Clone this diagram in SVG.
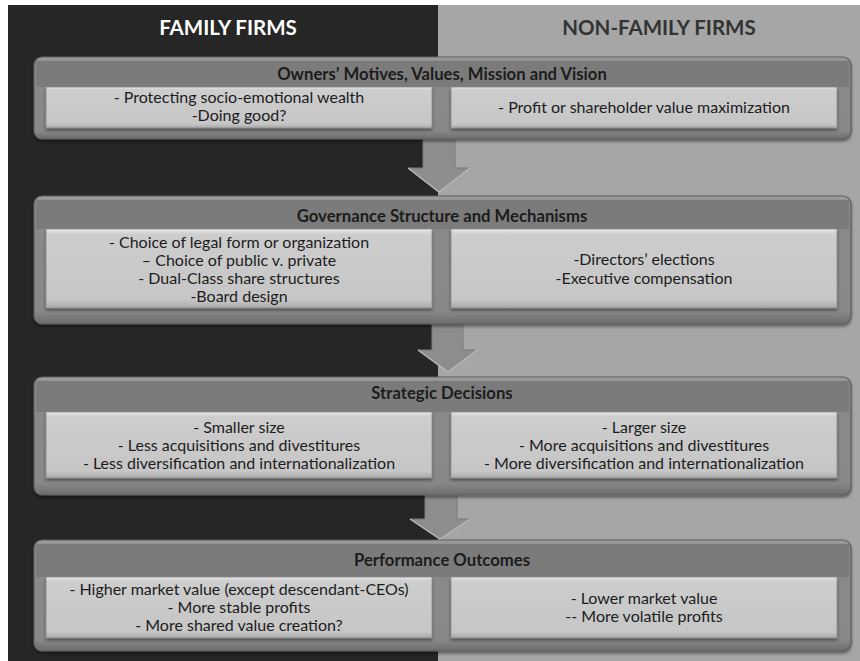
<svg xmlns="http://www.w3.org/2000/svg" width="860" height="661" viewBox="0 0 860 661">
<defs>
<style>
.t{font-family:Lato,"Liberation Sans",sans-serif;font-size:16px;fill:#1c1c1c;text-anchor:middle}
.h{font-family:Lato,"Liberation Sans",sans-serif;font-size:16.7px;font-weight:bold;fill:#1c1c1c;text-anchor:middle}
.col{font-family:Lato,"Liberation Sans",sans-serif;font-size:20.5px;font-weight:bold;text-anchor:middle}
.panel{fill:url(#pg);stroke:#5e5e5e;stroke-width:1.2}
.band{fill:#7b7b7b}
.box{fill:url(#bg);stroke:#8a8a8a;stroke-width:0.8}
.arrow{fill:#8d8d8d;stroke:#7a7a7a;stroke-width:1}
</style>
<linearGradient id="pg" x1="0" y1="0" x2="0" y2="1">
<stop offset="0" stop-color="#a0a0a0"/>
<stop offset="0.06" stop-color="#8a8a8a"/>
<stop offset="0.9" stop-color="#888888"/>
<stop offset="1" stop-color="#6c6c6c"/>
</linearGradient>
<linearGradient id="bg" x1="0" y1="0" x2="0" y2="1">
<stop offset="0" stop-color="#e6e6e6"/>
<stop offset="0.07" stop-color="#cdcdcd"/>
<stop offset="0.9" stop-color="#c6c6c6"/>
<stop offset="1" stop-color="#a8a8a8"/>
</linearGradient>
<filter id="sh" x="-5%" y="-10%" width="110%" height="125%">
<feDropShadow dx="0" dy="2" stdDeviation="1.5" flood-color="#000" flood-opacity="0.45"/>
</filter>
</defs>
<rect x="0" y="0" width="860" height="661" fill="#ffffff"/>
<rect x="8" y="5" width="430" height="656" fill="#262626"/>
<rect x="438" y="5" width="422" height="656" fill="#a6a6a6"/>
<text class="col" x="228" y="35" fill="#ffffff">FAMILY FIRMS</text>
<text class="col" x="659" y="35" fill="#333333">NON-FAMILY FIRMS</text>
<g id="connectors">
<path class="arrow" d="M423,138 H455 V168 H470 L439,192 L408,168 H423 Z"/>
<path d="M408,168 L439,192 L470,168" fill="none" stroke="#b8b8b8" stroke-width="1.5"/>
<path class="arrow" d="M432,322 H463 V350 H477 L448,372 L418,350 H432 Z"/>
<path d="M418,350 L448,372 L477,350" fill="none" stroke="#b8b8b8" stroke-width="1.5"/>
<path class="arrow" d="M425,493 H457 V519 H470 L440,539 L410,519 H425 Z"/>
<path d="M410,519 L440,539 L470,519" fill="none" stroke="#b8b8b8" stroke-width="1.5"/>
</g>
<g id="panel-motives">
<rect class="panel" x="34" y="57" width="817" height="82" rx="8" filter="url(#sh)"/>
<rect class="band" x="36" y="61" width="813" height="26"/>
<text class="h" x="442" y="80">Owners’ Motives, Values, Mission and Vision</text>
<rect class="box" x="46" y="87" width="386" height="41" filter="url(#sh)"/>
<rect class="box" x="451" y="87" width="386" height="41" filter="url(#sh)"/>
<text class="t" x="239" y="103">- Protecting socio-emotional wealth<tspan x="239" dy="18">-Doing good?</tspan></text>
<text class="t" x="644" y="113">- Profit or shareholder value maximization</text>
</g>
<g id="panel-governance">
<rect class="panel" x="34" y="196" width="817" height="128" rx="8" filter="url(#sh)"/>
<rect class="band" x="36" y="200" width="813" height="29"/>
<text class="h" x="442" y="222">Governance Structure and Mechanisms</text>
<rect class="box" x="46" y="229" width="386" height="79" filter="url(#sh)"/>
<rect class="box" x="451" y="229" width="386" height="79" filter="url(#sh)"/>
<text class="t" x="239" y="248">- Choice of legal form or organization<tspan x="239" dy="18">– Choice of public v. private</tspan><tspan x="239" dy="18">- Dual-Class share structures</tspan><tspan x="239" dy="18">-Board design</tspan></text>
<text class="t" x="644" y="265">-Directors’ elections<tspan x="644" dy="19">-Executive compensation</tspan></text>
</g>
<g id="panel-strategic">
<rect class="panel" x="34" y="377" width="817" height="118" rx="8" filter="url(#sh)"/>
<rect class="band" x="36" y="381" width="813" height="31"/>
<text class="h" x="442" y="399">Strategic Decisions</text>
<rect class="box" x="46" y="412" width="386" height="66" filter="url(#sh)"/>
<rect class="box" x="451" y="412" width="386" height="66" filter="url(#sh)"/>
<text class="t" x="239" y="433">- Smaller size<tspan x="239" dy="18">- Less acquisitions and divestitures</tspan><tspan x="239" dy="18">- Less diversification and internationalization</tspan></text>
<text class="t" x="644" y="433">- Larger size<tspan x="644" dy="18">- More acquisitions and divestitures</tspan><tspan x="644" dy="18">- More diversification and internationalization</tspan></text>
</g>
<g id="panel-performance">
<rect class="panel" x="34" y="540" width="817" height="111" rx="8" filter="url(#sh)"/>
<rect class="band" x="36" y="544" width="813" height="33"/>
<text class="h" x="442" y="566">Performance Outcomes</text>
<rect class="box" x="46" y="577" width="386" height="61" filter="url(#sh)"/>
<rect class="box" x="451" y="577" width="386" height="61" filter="url(#sh)"/>
<text class="t" x="239" y="595">-  Higher market value (except descendant-CEOs)<tspan x="239" dy="18">- More stable profits</tspan><tspan x="239" dy="18">- More shared value creation?</tspan></text>
<text class="t" x="644" y="604">- Lower market value<tspan x="644" dy="18">-- More volatile profits</tspan></text>
</g>
</svg>
